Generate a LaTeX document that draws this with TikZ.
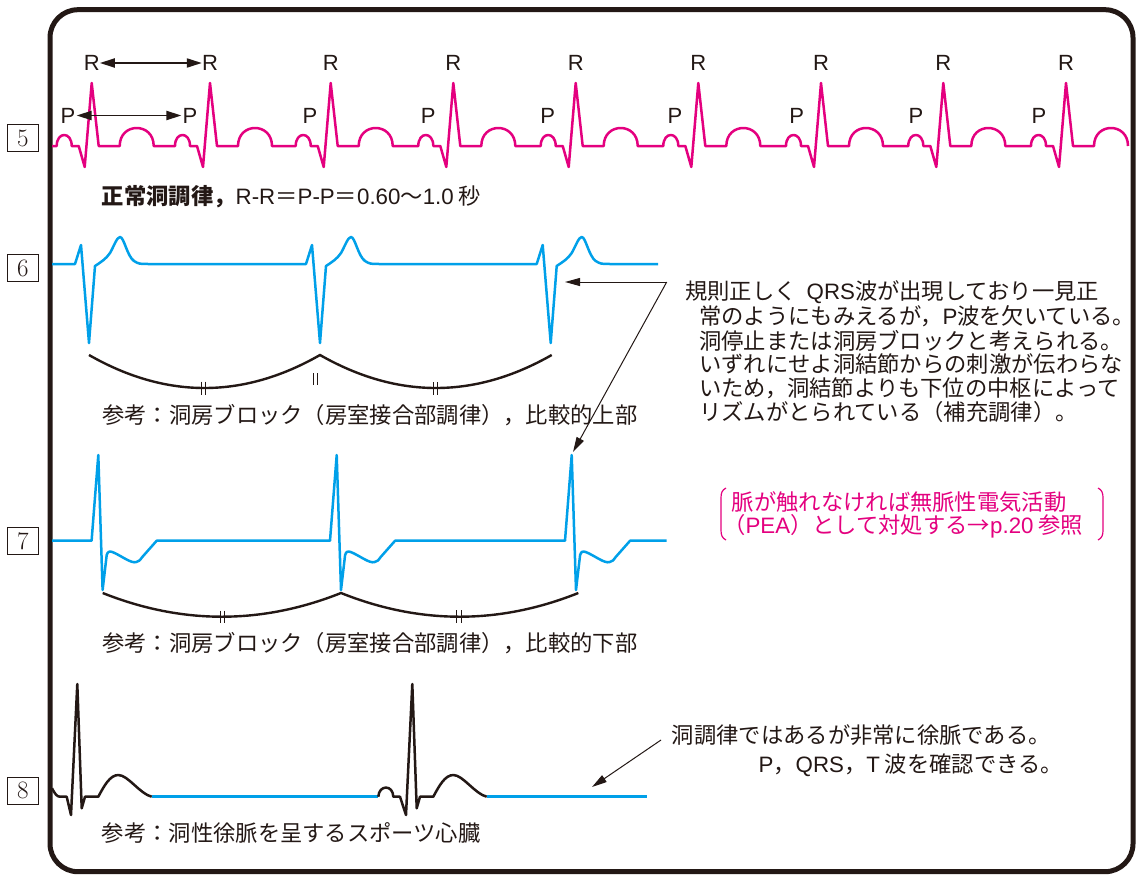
\documentclass[tikz,border=0pt]{standalone}
\usepackage{fontspec}
\usetikzlibrary{arrows.meta}
\newfontfamily\jpfont{Noto Sans CJK JP}
\newfontfamily\latfont{Liberation Sans}
\newcommand\latn[1]{{\latfont #1}}
\definecolor{ink}{HTML}{231815}
\definecolor{ecgpink}{HTML}{E4007F}
\definecolor{ecgcyan}{HTML}{00A0E9}
\tikzset{
  jt/.style={font=\jpfont\fontsize{22.3}{26}\selectfont, text=ink, inner sep=0pt, anchor=west},
  jpink/.style={jt, text=ecgpink},
  lab/.style={font=\latfont\fontsize{22}{26}\selectfont, text=ink, inner sep=0pt},
  numbox/.style={draw=ink, line width=0.9pt, minimum width=31pt, minimum height=27pt, inner sep=0pt, font=\fontsize{25}{28}\selectfont, text=ink},
  ecgm/.style={draw=ecgpink, line width=2.5pt, line join=round},
  ecgc/.style={draw=ecgcyan, line width=2.5pt, line join=round},
  ecgk/.style={draw=ink, line width=2.5pt, line join=round},
  bracearc/.style={draw=ink, line width=2.4pt},
  tickmark/.style={draw=ink, line width=0.9pt},
  dblarrow/.style={{Triangle[length=15pt,width=9pt]}-{Triangle[length=15pt,width=9pt]}, line width=1.9pt, draw=ink},
  leadarrow/.style={-{Triangle[length=15pt,width=8pt]}, line width=1pt, draw=ink},
  pinkbr/.style={draw=ecgpink, line width=1.2pt},
}
\begin{document}
\begin{tikzpicture}[x=1pt,y=-1pt]
\useasboundingbox (0,0) rectangle (1139,875);
\fill[white] (0,0) rectangle (1139,875);
% frame
\draw[draw=ink, line width=5pt, rounded corners=28pt] (50,9.7) rectangle (1133,871.7);

% number boxes
\node[numbox] (n5) at (22.8,138.3) {5};
\node[numbox] (n6) at (22.8,268) {6};
\node[numbox] (n7) at (22.8,541) {7};
\node[numbox] (n8) at (22.8,790.8) {8};

% ---- row 5 ----
\draw[ecgm] (52,146)
 \foreach \r in {91.7,210,330.7,453.3,575.7,698.3,821,943.3,1066} {
   -- ({\r-35},146) .. controls ({\r-35},131.3) and ({\r-20},131.3) .. ({\r-20},146)
   -- ({\r-13},146) -- ({\r-7},167) -- (\r,83) -- ({\r+7},146) -- ({\r+28},146)
   .. controls ({\r+28},122) and ({\r+62},122) .. ({\r+62},146)
 };
\node[lab] (R1) at (91.7,63) {R};
\node[lab] (R2) at (210,63) {R};
\node[lab] (R3) at (330.7,63) {R};
\node[lab] (R4) at (453.3,63) {R};
\node[lab] (R5) at (575.7,63) {R};
\node[lab] (R6) at (698.3,63) {R};
\node[lab] (R7) at (821,63) {R};
\node[lab] (R8) at (943.3,63) {R};
\node[lab] (R9) at (1066,63) {R};
\node[lab] (P1) at (68,115.5) {P};
\node[lab] (P2) at (190,115.5) {P};
\node[lab] (P3) at (310,115.5) {P};
\node[lab] (P4) at (428.3,115.5) {P};
\node[lab] (P5) at (547.7,115.5) {P};
\node[lab] (P6) at (675,115.5) {P};
\node[lab] (P7) at (796.7,115.5) {P};
\node[lab] (P8) at (916,115.5) {P};
\node[lab] (P9) at (1039,115.5) {P};
\draw[dblarrow] (R1) -- (R2);
\draw[dblarrow, shorten <=1pt, shorten >=1pt] (P1) -- (P2);
\node[jt] (t5) at (101.7,196.7) {{\bfseries 正常洞調律，}\latn{R-R}＝\latn{P-P}＝\latn{0.60}〜\latn{1.0} 秒};

% ---- row 6 ----
\draw[ecgc] (52,264) \foreach \t in {89,320,550.7} {
  -- ({\t-14},264) -- ({\t-8},245) -- (\t,343) -- ({\t+6},266)
  .. controls ({\t+12},262) and ({\t+17},259) .. ({\t+21},253)
  .. controls ({\t+25},246) and ({\t+28},237) .. ({\t+31},237)
  .. controls ({\t+35},237) and ({\t+38},256) .. ({\t+45},261)
  .. controls ({\t+50},264) .. ({\t+61},264)
} -- (658,264);
\draw[bracearc] (89,355) .. controls (166,399) and (243,399) .. (320,355)
  .. controls (397.2,399) and (474.5,399) .. (551.7,355);
\draw[tickmark] (201.7,381.7) -- (201.7,395) (205.7,381.7) -- (205.7,395)
  (433,382) -- (433,395) (437,382) -- (437,395)
  (313,373) -- (313,385) (317,373) -- (317,385);
\node[jt] (t6) at (102,415) {参考：洞房ブロック（房室接合部調律），比較的上部};

% annotation 6/7
\node[jt] (a1) at (685,291.7) {規則正しく\hspace{0.45em}\latn{QRS}波が出現しており一見正};
\node[jt] (a2) at (699,316.5) {常のようにもみえるが，\latn{P}波を欠いている。};
\node[jt] (a3) at (699,340.5) {洞停止または洞房ブロックと考えられる。};
\node[jt] (a4) at (699,364.5) {いずれにせよ洞結節からの刺激が伝わらな};
\node[jt] (a5) at (699,388.3) {いため，洞結節よりも下位の中枢によって};
\node[jt] (a6) at (699,412) {リズムがとられている（補充調律）。};
\coordinate (k6) at (666.7,282);
\coordinate (q6) at (565,282);
\coordinate (q7) at (573,452);
\draw[leadarrow] (k6) -- (q6);
\draw[leadarrow] (k6) -- (q7);

% pink note
\node[jpink] (p1) at (731.7,501.7) {脈が触れなければ無脈性電気活動};
\node[jpink] (p2) at (723,526.7) {（\latn{PEA}）として対処する→\latn{p.20} 参照};
\draw[pinkbr] (726,488) .. controls (722,490) and (721,493) .. (721,498) -- (721,530)
  .. controls (721,535) and (722,538) .. (726,540);
\draw[pinkbr] (1098,488) .. controls (1102,490) and (1103,493) .. (1103,498) -- (1103,530)
  .. controls (1103,535) and (1102,538) .. (1098,540);

% ---- row 7 ----
\draw[ecgc] (52,540.7) \foreach \r in {98.3,336.7,571.7} {
 -- ({\r-6.7},540.7) -- (\r,455) -- ({\r+4.3},590) -- ({\r+8.4},555)
 .. controls ({\r+9.5},551.5) and ({\r+11},551) .. ({\r+14},552)
 .. controls ({\r+22},555) and ({\r+33},564) .. ({\r+38},562)
 .. controls ({\r+41},561) .. ({\r+44},557) -- ({\r+58.4},540.7)
} -- (666.7,540.7);
\draw[bracearc] (102.7,593) .. controls (182.1,624.6) and (261.6,624.6) .. (341,593)
  .. controls (420.1,624.6) and (499.2,624.6) .. (578.3,593);
\draw[tickmark] (220,610.7) -- (220,623.3) (224.3,610.7) -- (224.3,623.3)
  (456.7,610) -- (456.7,623) (461,610) -- (461,623);
\node[jt] (t7) at (102,643) {参考：洞房ブロック（房室接合部調律），比較的下部};

% ---- row 8 ----
\draw[ecgk] (52,788.3) .. controls (55,794) and (57,796.7) .. (60,796.7) -- (66.7,796.7)
  -- (71,815) -- (77.3,684) -- (81.7,808.3) -- (85,796.7) -- (98.3,796.7)
  .. controls (104,786) and (110,775) .. (118.3,775)
  .. controls (128,775) and (140,794) .. (151.7,796.7);
\draw[ecgc] (151.7,796.7) -- (378.3,796.7);
\draw[ecgk] (378.3,796.7) .. controls (379,784.5) and (393,784.5) .. (393.3,796.7) -- (400,796.7)
  -- (406,815) -- (412.3,684) -- (416.7,808.3) -- (420,796.7) -- (433.3,796.7)
  .. controls (439,786) and (445,775) .. (453.3,775)
  .. controls (463,775) and (475,794) .. (486.7,796.7);
\draw[ecgc] (486.7,796.7) -- (647.3,796.7);
\node[jt] (t8) at (101.7,833) {参考：洞性徐脈を呈するスポーツ心臓};
\node[jt] (b1) at (671.7,735) {洞調律ではあるが非常に徐脈である。};
\node[jt] (b2) at (758.3,765) {\latn{P}，\latn{QRS}，\latn{T} 波を確認できる。};
\coordinate (k8) at (661,740);
\coordinate (q8) at (592,787);
\draw[leadarrow] (k8) -- (q8);
\end{tikzpicture}
\end{document}
